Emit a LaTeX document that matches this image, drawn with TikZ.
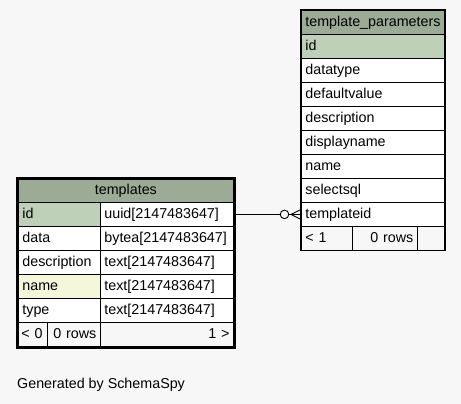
\documentclass[tikz,border=0pt]{standalone}
\usepackage{fontspec}
\setmainfont{Liberation Sans}
\definecolor{pagebg}{HTML}{F7F7F7}
\definecolor{headbg}{HTML}{9BAB96}
\definecolor{keybg}{HTML}{BED1B8}
\definecolor{idxbg}{HTML}{F4F7DA}
\begin{document}
\begin{tikzpicture}[x=1pt,y=-1pt,
  every node/.style={font=\fontsize{14.3}{17}\selectfont},
  cell/.style={draw=black, line width=0.8pt, fill=white, anchor=north west,
    inner xsep=4pt, inner ysep=0pt, minimum height=24pt,
    text height=10.5pt, text depth=3pt, align=left},
  headcell/.style={cell, fill=headbg, align=center},
  keycell/.style={cell, fill=keybg},
  idxcell/.style={cell, fill=idxbg},
  footcell/.style={cell, fill=pagebg},
  link/.style={draw=black, line width=0.9pt}
]
\fill[pagebg] (0,0) rectangle (461,404);
\useasboundingbox (0,0) rectangle (461,404);

% table template_parameters
\node[headcell, text width=135pt] (p-head) at (301,10) {template\_parameters};
\node[keycell, text width=135pt] (p-id) at (301,34) {id};
\node[cell, text width=135pt] (p-datatype) at (301,58) {datatype};
\node[cell, text width=135pt] (p-defaultvalue) at (301,82) {defaultvalue};
\node[cell, text width=135pt] (p-description) at (301,106) {description};
\node[cell, text width=135pt] (p-displayname) at (301,130) {displayname};
\node[cell, text width=135pt] (p-name) at (301,154) {name};
\node[cell, text width=135pt] (p-selectsql) at (301,178) {selectsql};
\node[cell, text width=135pt] (p-templateid) at (301,202) {templateid};
\node[footcell, text width=43pt] (p-prev) at (301,226) {<~1};
\node[footcell, text width=57pt, align=right] (p-rows) at (352,226) {0~rows};
\node[footcell, text width=19pt] (p-next) at (417,226) {};
\draw[line width=1pt] (300,9.5) rectangle (445,250.5);

% table templates
\node[headcell, text width=207pt, minimum height=23pt] (t-head) at (18,179) {templates};
\node[keycell, text width=74pt] (t-id) at (18,202) {id};
\node[cell, text width=125pt] (t-id-type) at (100,202) {uuid[2147483647]};
\node[cell, text width=74pt] (t-data) at (18,226) {data};
\node[cell, text width=125pt] (t-data-type) at (100,226) {bytea[2147483647]};
\node[cell, text width=74pt] (t-description) at (18,250) {description};
\node[cell, text width=125pt] (t-description-type) at (100,250) {text[2147483647]};
\node[idxcell, text width=74pt] (t-name) at (18,274) {name};
\node[cell, text width=125pt] (t-name-type) at (100,274) {text[2147483647]};
\node[cell, text width=74pt] (t-type) at (18,298) {type};
\node[cell, text width=125pt] (t-type-type) at (100,298) {text[2147483647]};
\node[footcell, text width=23pt, inner xsep=3pt] (t-prev) at (18,322) {<~0};
\node[footcell, text width=45pt, align=right] (t-rows) at (47,322) {0~rows};
\node[footcell, text width=125pt, align=right] (t-next) at (100,322) {1~>};
\draw[line width=2.6pt] (16.8,177.8) rectangle (234.2,347.2);

% foreign key: template_parameters.templateid -> templates.id
\draw[link] (t-id-type.east) -- (p-templateid.west);
\draw[link, fill=pagebg] ([xshift=-16.5pt]p-templateid.west) circle (4.3pt);
\draw[link] ([xshift=-10pt]p-templateid.west) -- ([yshift=-5pt]p-templateid.west)
            ([xshift=-10pt]p-templateid.west) -- ([yshift=5pt]p-templateid.west);

\node[anchor=base west, inner sep=0pt] (credit) at (17,388) {Generated by SchemaSpy};
\end{tikzpicture}
\end{document}
